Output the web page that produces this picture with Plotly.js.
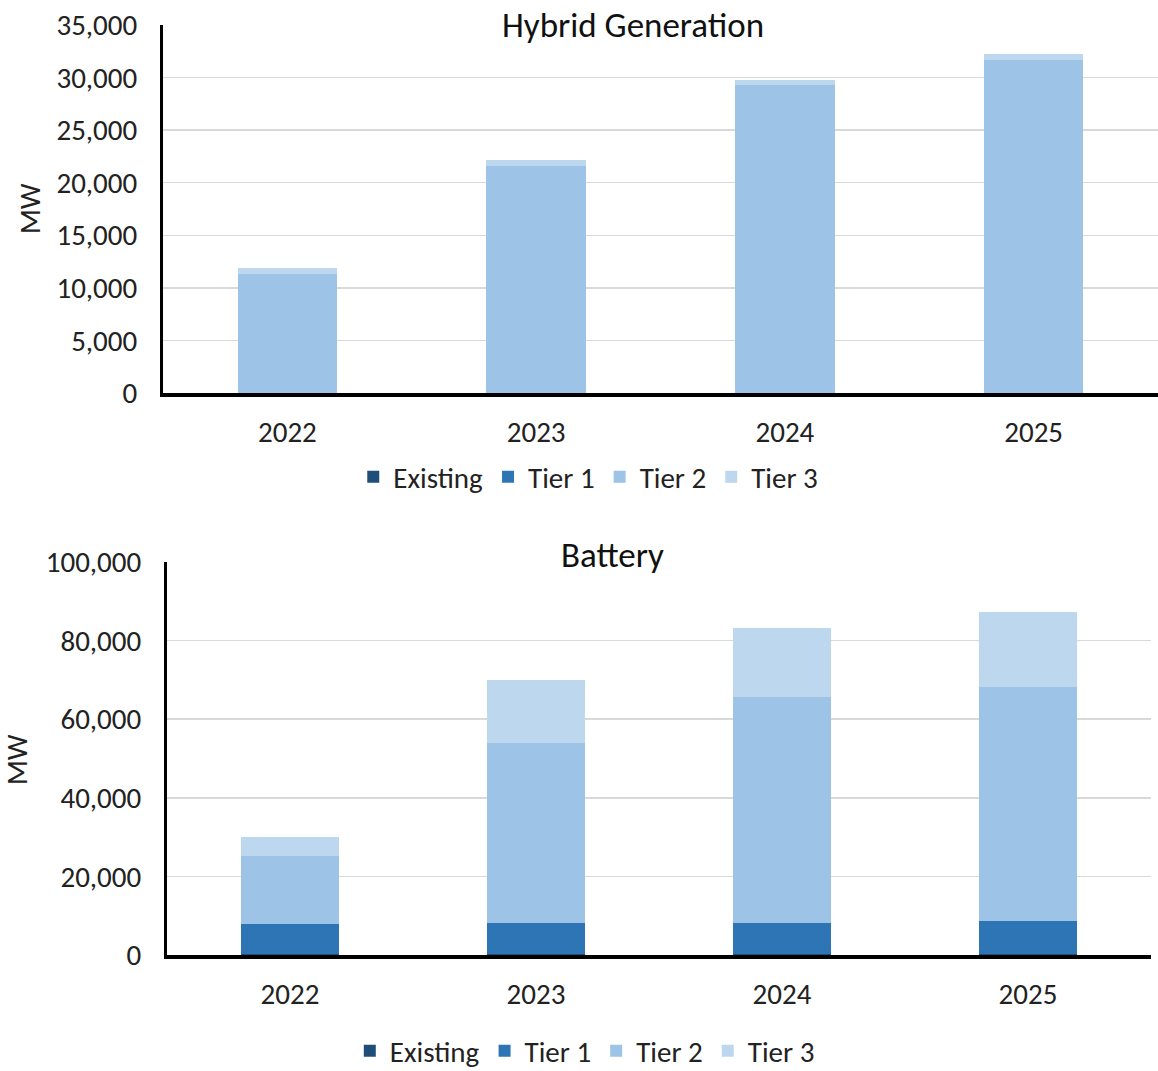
<!DOCTYPE html>
<html>
<head>
<meta charset="utf-8">
<script src="https://cdn.plot.ly/plotly-3.0.1.min.js"></script>
<style>html,body{margin:0;padding:0;background:#fff;width:1158px;height:1071px;overflow:hidden;}#chart{width:1158px;height:1071px;overflow:hidden;}</style>
</head>
<body>
<div id="chart"></div>
<script>
const years = ["2022", "2023", "2024", "2025"];
const seriesNames = ["Existing", "Tier 1", "Tier 2", "Tier 3"];
const seriesColors = ["#1f4e79", "#2e75b6", "#9dc3e6", "#bdd7ee"];

// Hybrid Generation (MW)
const hybridExisting = [0, 0, 0, 0];
const hybridTier1 = [0, 0, 0, 0];
const hybridTier2 = [11300, 21600, 29300, 31700];
const hybridTier3 = [550, 600, 500, 500];

// Battery (MW)
const batteryExisting = [200, 200, 200, 200];
const batteryTier1 = [7600, 8000, 8000, 8400];
const batteryTier2 = [17300, 45700, 57500, 59700];
const batteryTier3 = [4900, 16100, 17600, 19000];

const topTitle = "Hybrid Generation";
const bottomTitle = "Battery";
const yTitle = "MW";

const FONT = "Carlito, 'Liberation Sans Narrow', 'Open Sans', sans-serif";

const hybridData = [hybridExisting, hybridTier1, hybridTier2, hybridTier3];
const batteryData = [batteryExisting, batteryTier1, batteryTier2, batteryTier3];

const traces = [];
hybridData.forEach((vals, i) => {
  traces.push({
    type: "bar", x: years, y: vals, name: seriesNames[i],
    marker: {color: seriesColors[i], line: {width: 0}},
    xaxis: "x", yaxis: "y", legend: "legend", hoverinfo: "y+name"
  });
});
batteryData.forEach((vals, i) => {
  traces.push({
    type: "bar", x: years, y: vals, name: seriesNames[i],
    marker: {color: seriesColors[i], line: {width: 0}},
    xaxis: "x2", yaxis: "y2", legend: "legend2", hoverinfo: "y+name"
  });
});

const H = 1071, W = 1158;
const py = p => 1 - p / H;
const px = p => p / W;

const TF = 29;
const yaxisCommon = {
  showgrid: true, gridcolor: "#d9d9d9", gridwidth: 1.5,
  showline: true, linecolor: "#000", linewidth: 3,
  ticks: "", ticklabelstandoff: 17,
  tickfont: {family: FONT, size: TF, color: "#222"},
  tickformat: ",d", zeroline: false, fixedrange: true, automargin: false
};
const xaxisCommon = {
  showline: true, linecolor: "#000", linewidth: 3.5,
  ticks: "", ticklabelstandoff: 11,
  tickfont: {family: FONT, size: TF, color: "#222"},
  showgrid: false, fixedrange: true, automargin: false
};

const layout = {
  width: W, height: H,
  margin: {l: 0, r: 0, t: 0, b: 0, autoexpand: false},
  paper_bgcolor: "#fff", plot_bgcolor: "#fff",
  barmode: "stack", bargap: 0.6,
  font: {family: FONT, color: "#222"},
  xaxis: Object.assign({}, xaxisCommon, {domain: [px(163), 1], anchor: "y"}),
  yaxis: Object.assign({}, yaxisCommon, {domain: [py(393), py(25)], range: [0, 35000], dtick: 5000, anchor: "x"}),
  xaxis2: Object.assign({}, xaxisCommon, {domain: [px(167), px(1151)], anchor: "y2"}),
  yaxis2: Object.assign({}, yaxisCommon, {domain: [py(955), py(562)], range: [0, 100000], dtick: 20000, anchor: "x2"}),
  legend: {
    orientation: "h", x: 0.508, xanchor: "center", y: py(477), yanchor: "middle",
    font: {family: FONT, size: TF, color: "#222"}, traceorder: "normal",
    itemwidth: 30, bgcolor: "rgba(0,0,0,0)"
  },
  legend2: {
    orientation: "h", x: 0.505, xanchor: "center", y: py(1051), yanchor: "middle",
    font: {family: FONT, size: TF, color: "#222"}, traceorder: "normal",
    itemwidth: 30, bgcolor: "rgba(0,0,0,0)"
  },
  annotations: [
    {text: topTitle, xref: "paper", yref: "paper", x: px(633), y: py(25), xanchor: "center", yanchor: "middle",
     showarrow: false, font: {family: FONT, size: 35, color: "#111"}},
    {text: bottomTitle, xref: "paper", yref: "paper", x: px(612), y: py(555), xanchor: "center", yanchor: "middle",
     showarrow: false, font: {family: FONT, size: 35, color: "#111"}},
    {text: yTitle, xref: "paper", yref: "paper", x: px(30), y: py(208), xanchor: "center", yanchor: "middle",
     textangle: -90, showarrow: false, font: {family: FONT, size: TF, color: "#222"}},
    {text: yTitle, xref: "paper", yref: "paper", x: px(17), y: py(760), xanchor: "center", yanchor: "middle",
     textangle: -90, showarrow: false, font: {family: FONT, size: TF, color: "#222"}}
  ]
};

Plotly.newPlot("chart", traces, layout, {displayModeBar: false, staticPlot: true});
</script>
</body>
</html>
